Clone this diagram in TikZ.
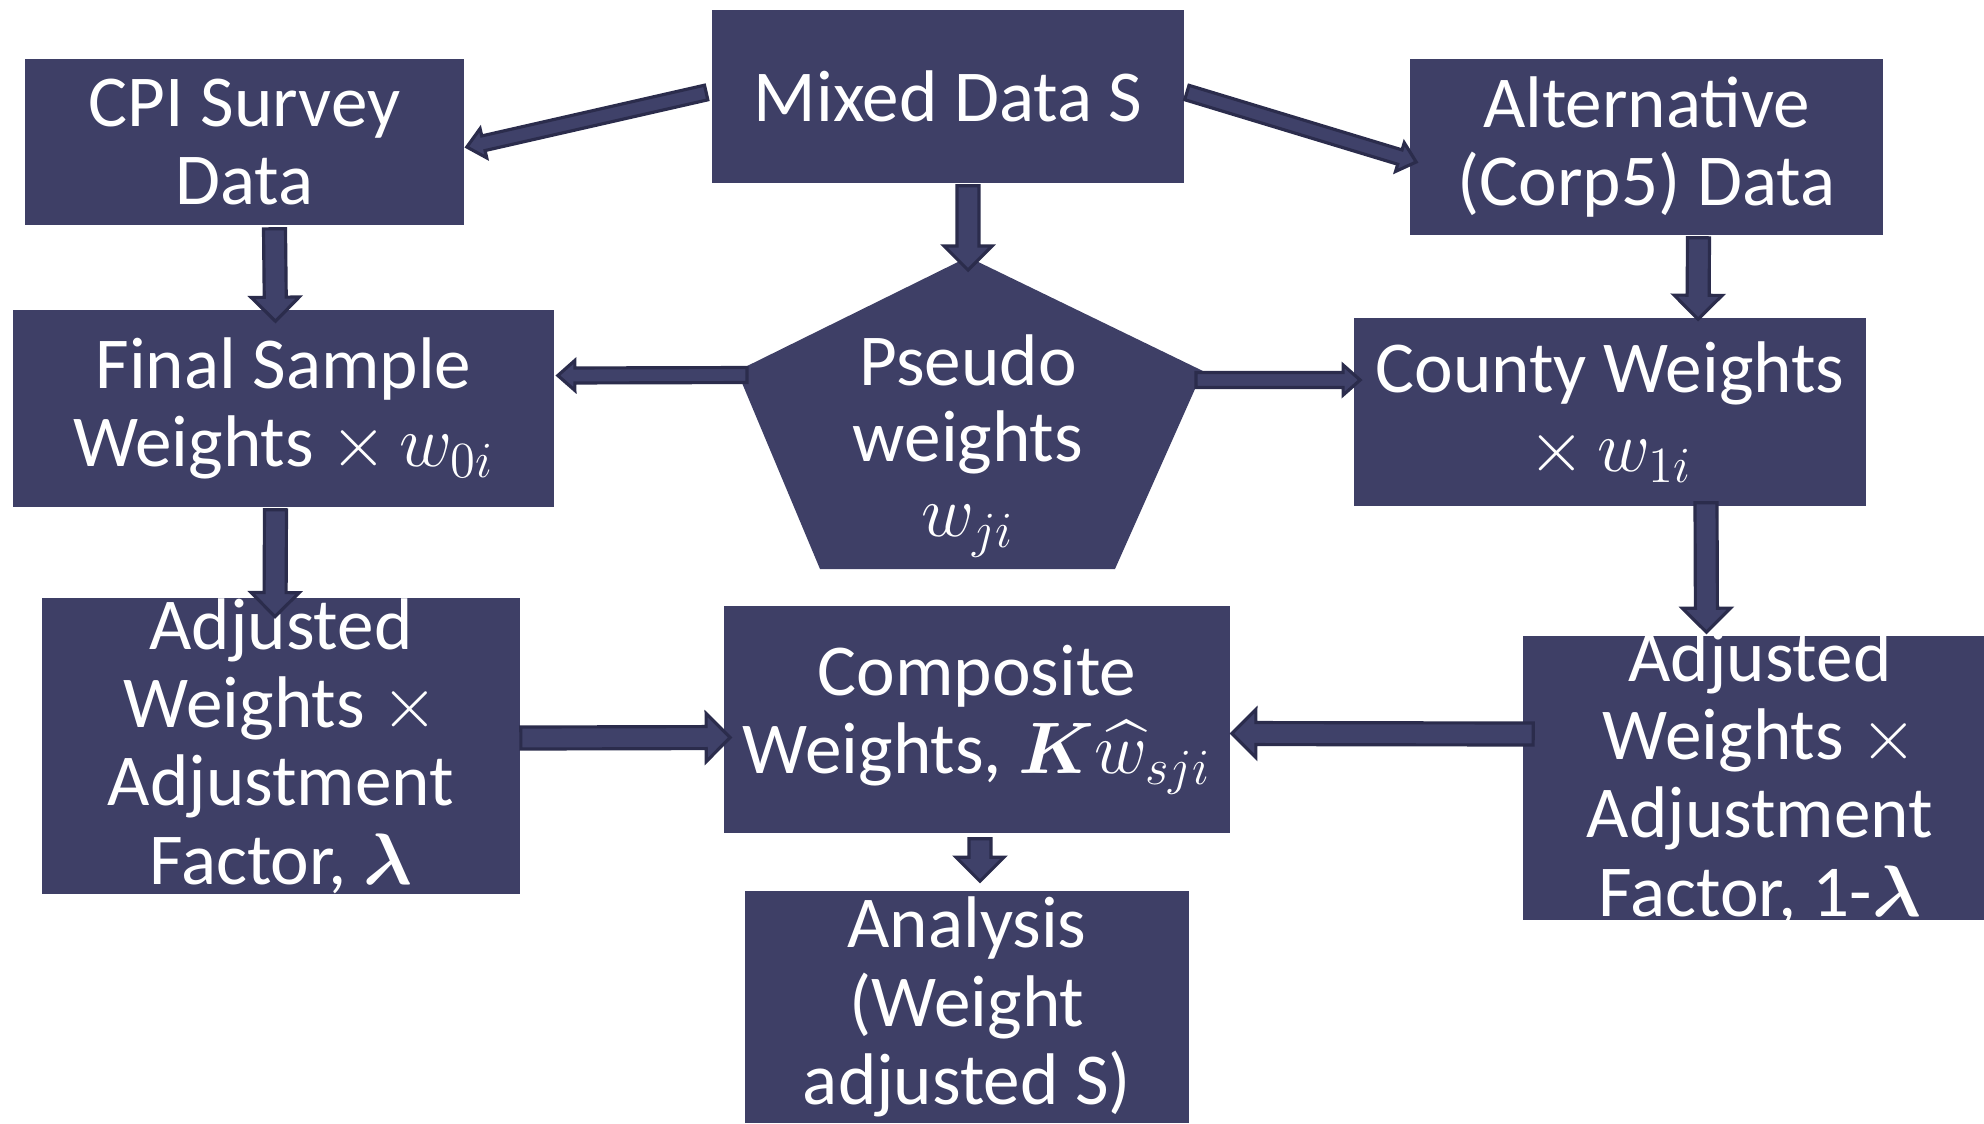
\documentclass[tikz,border=0pt]{standalone}
\usepackage{amsmath}
\usepackage{fontspec}
\setmainfont{Carlito}
\usetikzlibrary{calc}
\definecolor{boxfill}{HTML}{3E3F66}
\definecolor{arrfill}{HTML}{3F4169}
\definecolor{arrline}{HTML}{2B2C4C}
\tikzset{
  box/.style={fill=boxfill, text=white, align=center, inner sep=0pt,
    font=\fontsize{20.8}{22.3}\selectfont},
  lbl/.style={text=white, align=center, inner sep=0pt,
    font=\fontsize{20.8}{21.5}\selectfont},
  arrstyle/.style={fill=arrfill, draw=arrline, line width=0.9pt, line join=miter}
}
\newcommand{\blockarr}[5]{%
  \path ($(#2)!#5!(#1)$) coordinate (hb);
  \filldraw[arrstyle] ($(#1)!#3!90:(#2)$) -- ($(hb)!#3!-90:(#1)$) -- ($(hb)!#4!-90:(#1)$)
    -- (#2) -- ($(hb)!#4!90:(#1)$) -- ($(hb)!#3!90:(#1)$) -- ($(#1)!#3!-90:(#2)$) -- cycle;
}
\newcommand{\bigarr}[2]{\blockarr{#1}{#2}{0.11cm}{0.24cm}{0.24cm}}
\newcommand{\thinarr}[2]{\blockarr{#1}{#2}{0.075cm}{0.15cm}{0.17cm}}
\begin{document}
\begin{tikzpicture}[x=0.01cm, y=-0.01cm]
\useasboundingbox (0,0) rectangle (1984,1123);
% boxes
\node[box, minimum width=4.72cm, minimum height=1.73cm] (mix) at (948,96.5) {Mixed Data S};
\node[box, minimum width=4.39cm, minimum height=1.66cm] (cpi) at (244.5,142) {CPI Survey\\Data};
\node[box, minimum width=4.73cm, minimum height=1.76cm] (alt) at (1646.5,147) {Alternative\\(Corp5) Data};
\node[box, minimum width=5.41cm, minimum height=1.97cm] (fin) at (283.5,408.5) {Final Sample\\Weights $\times\, w_{0i}$};
\node[box, minimum width=5.12cm, minimum height=1.88cm] (cty) at (1610,412) {County Weights\\$\times\, w_{1i}$};
\node[box, minimum width=4.78cm, minimum height=2.90cm] (adjL) at (281,746) {Adjusted\\Weights $\times$\\Adjustment\\Factor, $\boldsymbol{\lambda}$};
\node[box, minimum width=5.06cm, minimum height=2.27cm] (comp) at (977,719.5) {Composite\\Weights, $\boldsymbol{K}\widehat{w}_{sji}$};
\node[box, minimum width=4.61cm, minimum height=2.84cm] (adjR) at (1753.5,778) {};
\node[lbl, font=\fontsize{20.8}{22.3}\selectfont] (adjRt) at (1760,778) {Adjusted\\Weights $\times$\\Adjustment\\Factor, 1-$\boldsymbol{\lambda}$};
\node[box, minimum width=4.44cm, minimum height=2.32cm] (ana) at (967,1007) {Analysis\\(Weight\\adjusted S)};
% pentagon
\fill[boxfill] (968,257) -- (1203,371) -- (1115,569) -- (820,569) -- (737,371) -- cycle;
\node[lbl] (pw) at (968,446) {Pseudo\\weights\\$w_{ji}$};
\coordinate (ptop) at (968,257);
\coordinate (pleft) at (747,375);
\coordinate (pright) at (1196,380);
% arrows
\path ($(mix.west)+(-5,-4)$) coordinate (s1) ($(cpi.east)+(2,5)$) coordinate (e1);
\path ($(mix.east)+(2,-4)$) coordinate (s2) ($(alt.west)+(7,15)$) coordinate (e2);
\path ($(mix.south)+(20,2)$) coordinate (s3) ($(ptop)+(0,13)$) coordinate (e3);
\path ($(cpi.south)+(30,3)$) coordinate (s4) ($(fin.north)+(-8,12)$) coordinate (e4);
\path ($(alt.south)+(52,2)$) coordinate (s5) ($(cty.north)+(88,2)$) coordinate (e5);
\path (pleft) coordinate (s6) ($(fin.east)+(3,-33)$) coordinate (e6);
\path (pright) coordinate (s7) ($(cty.west)+(7,-32)$) coordinate (e7);
\path ($(fin.south)+(-8,2)$) coordinate (s8) ($(adjL.north)+(-6,19)$) coordinate (e8);
\path ($(cty.south)+(96,-4)$) coordinate (s9) ($(adjR.north)+(-47,-3)$) coordinate (e9);
\path ($(adjL.east)+(0,-8)$) coordinate (s10) ($(comp.west)+(7,18)$) coordinate (e10);
\path ($(adjR.west)+(11,-44)$) coordinate (s11) ($(comp.east)+(1,14)$) coordinate (e11);
\path ($(comp.south)+(3,5)$) coordinate (s12) ($(ana.north)+(13,-9)$) coordinate (e12);
\thinarr{s1}{e1}
\thinarr{s2}{e2}
\bigarr{s3}{e3}
\bigarr{s4}{e4}
\bigarr{s5}{e5}
\thinarr{s6}{e6}
\thinarr{s7}{e7}
\bigarr{s8}{e8}
\bigarr{s9}{e9}
\bigarr{s10}{e10}
\bigarr{s11}{e11}
\bigarr{s12}{e12}
\end{tikzpicture}
\end{document}
